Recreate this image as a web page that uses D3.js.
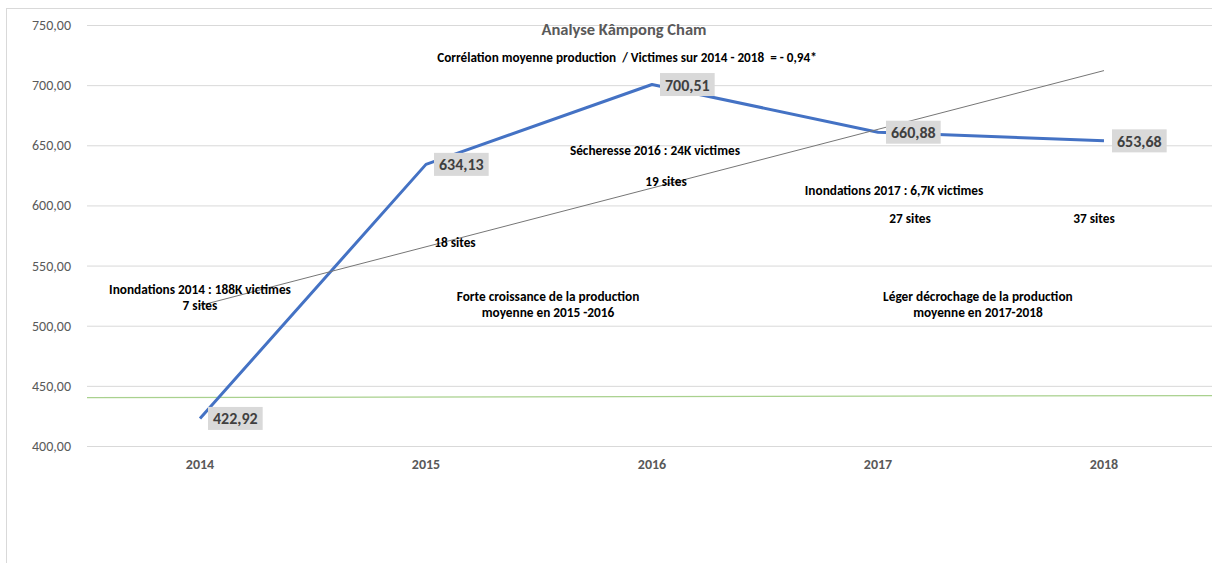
<!DOCTYPE html>
<html><head><meta charset="utf-8">
<script src="https://cdn.jsdelivr.net/npm/d3@7"></script>
<style>
html,body{margin:0;padding:0;background:#fff;}
svg{display:block;font-family:Carlito,Calibri,"Liberation Sans Narrow","Open Sans",sans-serif;}
</style></head>
<body>
<svg id="c" width="1212" height="563"></svg>
<script>
// ---- data ----
const categories = ["2014","2015","2016","2017","2018"];
const production = [422.92, 634.13, 700.51, 660.88, 653.68];
const valueLabels = ["422,92","634,13","700,51","660,88","653,68"];
const trendValues = [516.8, 712.1];          // linear trendline at 2014 and 2018
const greenValues = [440.2, 441.9];          // thin green series at left/right plot edges
const yTicks = [400,450,500,550,600,650,700,750];
const titleText = "Analyse Kâmpong Cham";
const subtitleText = "Corrélation moyenne production  / Victimes sur 2014 - 2018  = - 0,94*";
const noteTexts = ["Sécheresse 2016 : 24K victimes","19 sites","Inondations 2017 : 6,7K victimes","27 sites","37 sites","18 sites","Inondations 2014 : 188K victimes","7 sites","Forte croissance de la production","moyenne en 2015 -2016","Léger décrochage de la production","moyenne en 2017-2018"];
const noteIdx = [2.013, 2.062, 3.071, 3.142, 3.956, 1.128, 0, 0, 1.54, 1.54, 3.442, 3.442];
const noteVal = [645.4, 619.6, 612.1, 588.9, 588.9, 568.9, 529.8, 516.5, 524.6, 511.3, 524.6, 511.3];

// ---- layout ----
const svg = d3.select("#c");
const pLeft = 87, pRight = 1217, pTop = 25, pBottom = 446;
const x = d3.scaleBand().domain(categories).range([pLeft, pRight]).padding(0);
const xc = c => x(c) + x.bandwidth()/2;
const xi = d3.scaleLinear().domain([0,4]).range([xc(categories[0]), xc(categories[4])]);
const y = d3.scaleLinear().domain([400,750]).range([pBottom, pTop]);

// frame
svg.append("rect").attr("x",6.5).attr("y",8.5).attr("width",1300).attr("height",700)
  .attr("fill","none").attr("stroke","#d9d9d9").attr("stroke-width",1);

// gridlines + y axis
const yAxis = d3.axisLeft(y).tickValues(yTicks).tickSize(-(pRight-pLeft))
  .tickFormat(d => d3.format(".2f")(d).replace(".",","));
const ga = svg.append("g").attr("transform",`translate(${pLeft},0)`).call(yAxis)
  .attr("font-family", null).attr("font-size", null);
ga.select(".domain").remove();
ga.selectAll(".tick line").attr("stroke","#d9d9d9").attr("stroke-width",1);
ga.selectAll(".tick text").attr("x",-16).attr("fill","#595959")
  .style("font-size","14px");

// x axis labels
const xAxis = d3.axisBottom(x).tickSize(0).tickPadding(13);
const gx = svg.append("g").attr("transform",`translate(0,${pBottom})`).call(xAxis)
  .attr("font-family", null).attr("font-size", null);
gx.select(".domain").remove();
gx.selectAll(".tick text").attr("fill","#595959").style("font-size","14px")
  .style("font-weight","bold");

// green series
svg.append("line")
  .attr("x1", pLeft).attr("x2", pRight)
  .attr("y1", y(greenValues[0])).attr("y2", y(greenValues[1]))
  .attr("stroke","#a9d18e").attr("stroke-width",1.2);

// main line
const pts = categories.map((c,i)=>({c, v:production[i], l:valueLabels[i]}));
svg.append("path").datum(pts)
  .attr("fill","none").attr("stroke","#4472c4").attr("stroke-width",3)
  .attr("stroke-linejoin","round")
  .attr("d", d3.line().x(d=>xc(d.c)).y(d=>y(d.v)));

// trendline
svg.append("line")
  .attr("x1", xc(categories[0])).attr("x2", xc(categories[4]))
  .attr("y1", y(trendValues[0])).attr("y2", y(trendValues[1]))
  .attr("stroke","#767676").attr("stroke-width",1);

// data labels
const lg = svg.append("g").selectAll("g").data(pts).join("g")
  .attr("transform", d=>`translate(${xc(d.c)+8},${y(d.v)})`);
const rects = lg.append("rect").attr("fill","#d9d9d9");
const lt = lg.append("text").text(d=>d.l).attr("fill","#404040")
  .style("font-size","16px").style("font-weight","bold")
  .attr("dominant-baseline","central").attr("x",5).attr("y",0.5);
lt.each(function(){
  const w = this.getComputedTextLength();
  d3.select(this.previousSibling).attr("x",0).attr("y",-11.5).attr("width",w+10).attr("height",23);
});

// title & subtitle
svg.append("text").attr("x",624).attr("y",29).attr("text-anchor","middle")
  .attr("dominant-baseline","central").attr("fill","#595959")
  .style("font-size","16.5px").style("font-weight","bold").text(titleText);
svg.append("text").attr("x",627).attr("y",57).attr("text-anchor","middle")
  .attr("dominant-baseline","central").attr("fill","#000")
  .style("font-size","13.2px").style("font-weight","bold").style("white-space","pre")
  .text(subtitleText);

// annotations
svg.append("g").selectAll("text").data(noteTexts).join("text")
  .attr("x",(d,i)=>xi(noteIdx[i])).attr("y",(d,i)=>y(noteVal[i]))
  .attr("text-anchor","middle").attr("dominant-baseline","central")
  .attr("fill","#000").style("font-size","13.3px").style("font-weight","bold")
  .text(d=>d);
</script>
</body></html>
